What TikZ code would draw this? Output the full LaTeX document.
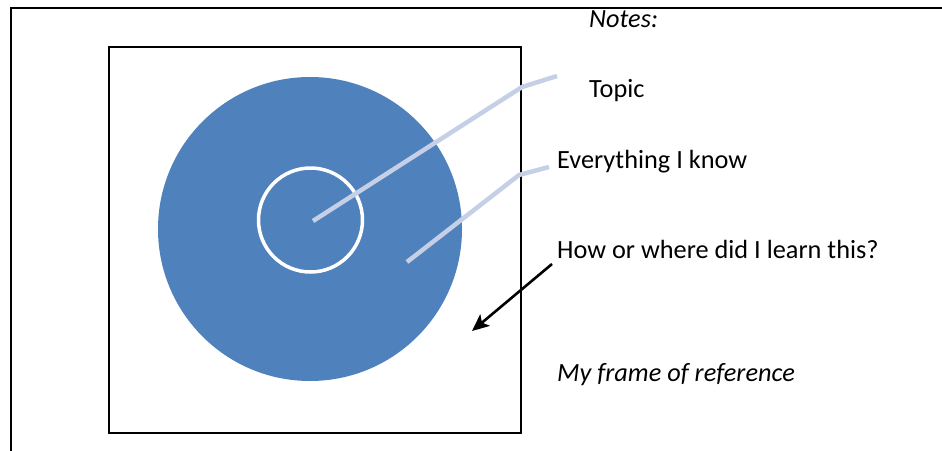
\documentclass[tikz,border=0pt]{standalone}
\usepackage{fontspec}
\setmainfont{Carlito}
\usetikzlibrary{arrows.meta}
\definecolor{discblue}{RGB}{79,129,189}
\definecolor{callout}{RGB}{197,208,230}
\tikzset{
  frameline/.style={draw=black, line width=2pt},
  label/.style={anchor=base west, inner sep=0pt, font=\fontsize{26.3}{30}\selectfont},
  calloutline/.style={draw=callout, line width=4.5pt},
}
\begin{document}
\begin{tikzpicture}[x=1pt,y=-1pt]
\useasboundingbox (0,0) rectangle (942,450);
% outer frame
\draw[frameline] (11,451) -- (11,8) -- (943,8);
% inner square
\node[frameline, minimum width=412pt, minimum height=386pt, inner sep=0pt] (sq) at (315,240) {};
% disc
\fill[discblue] (310,229) circle[radius=152pt];
\node[draw=white, line width=3.5pt, circle, minimum size=104pt, inner sep=0pt] (topiccircle) at (310.5,220) {};
% labels
\node[label] (notes) at (589,27) {\itshape Notes:};
\node[label] (topic) at (589,97) {Topic};
\node[label] (know) at (557,168) {Everything I know};
\node[label] (how) at (557,258) {How or where did I learn this?};
\node[label] (frame) at (557,381) {\itshape My frame of reference};
% callouts
\coordinate (t0) at (313,221);
\coordinate (t1) at (522,87);
\coordinate (t2) at (557,76);
\draw[calloutline] (t0) -- (t1) -- (t2);
\coordinate (k0) at (407,262);
\coordinate (k1) at (519,175);
\coordinate (k2) at (549,167);
\draw[calloutline] (k0) -- (k1) -- (k2);
% arrow
\coordinate (a0) at (552,264);
\coordinate (a1) at (472,331);
\draw[line width=2.6pt, -{Stealth[length=17pt,width=15pt,inset=4pt]}] (a0) -- (a1);
\end{tikzpicture}
\end{document}
